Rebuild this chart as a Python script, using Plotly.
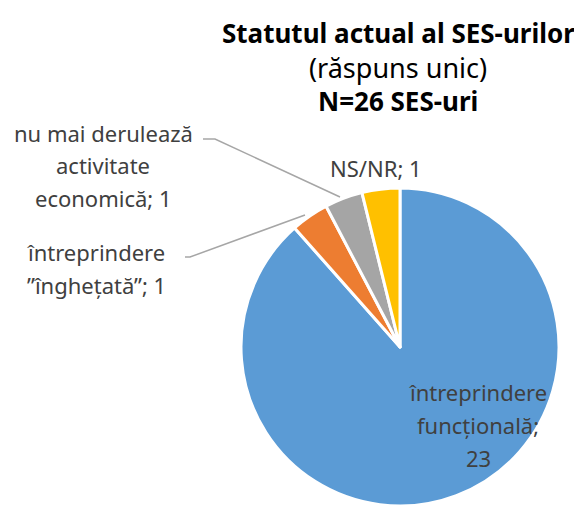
import plotly.graph_objects as go

labels = ["întreprindere funcțională", "întreprindere ”înghețată”",
          "nu mai derulează activitate economică", "NS/NR"]
values = [23, 1, 1, 1]
colors = ["#5B9BD5", "#ED7D31", "#A5A5A5", "#FFC000"]
label_lines = [
    ["întreprindere", "funcțională;", "23"],
    ["întreprindere", "”înghețată”; 1"],
    ["nu mai derulează", "activitate", "economică; 1"],
    ["NS/NR; 1"],
]
title_lines = ["<b>Statutul actual al SES-urilor</b>", "(răspuns unic)", "<b>N=26 SES-uri</b>"]

OFF = 8  # page body margin
W, H = 582 - OFF, 506 - OFF
FONT = "Noto Sans"
TXT = "#404040"

def px(x): return (x - OFF) / W
def py(y): return 1 - (y - OFF) / H

fig = go.Figure()
fig.add_trace(go.Pie(
    labels=labels, values=values, sort=False, direction="clockwise", rotation=0,
    marker=dict(colors=colors, line=dict(color="white", width=3)),
    textinfo="none", hoverinfo="label+value", showlegend=False,
    domain=dict(x=[px(241), px(559)], y=[0, py(188)]),
))

# title
for txt, y, sz in zip(title_lines, [33, 67, 101], [26, 27, 26]):
    fig.add_annotation(text=txt, x=px(398), y=py(y), xref="paper", yref="paper",
                       showarrow=False, xanchor="center", yanchor="middle",
                       font=dict(family=FONT, size=sz, color="#000000"))

# data labels (one annotation per text line)
label_pos = [
    (478, [392, 425, 458]),
    (96, [252, 285]),
    (103, [133, 165, 198]),
    (376, [168]),
]
for lines, (x, ys) in zip(label_lines, label_pos):
    for t, y in zip(lines, ys):
        fig.add_annotation(text=t, x=px(x), y=py(y), xref="paper", yref="paper",
                           showarrow=False, xanchor="center", yanchor="middle",
                           font=dict(family=FONT, size=22, color=TXT))

# leader lines
leaders = [
    [(203, 139), (215, 139), (340, 197)],
    [(185, 257), (190, 257), (305, 215)],
]
for pts in leaders:
    path = "M " + " L ".join(f"{px(x)},{py(y)}" for x, y in pts)
    fig.add_shape(type="path", path=path, xref="paper", yref="paper",
                  line=dict(color="#A6A6A6", width=1.5))

fig.update_layout(width=W, height=H, margin=dict(l=0, r=0, t=0, b=0),
                  paper_bgcolor="white", plot_bgcolor="white",
                  font=dict(family=FONT, color=TXT))
fig.write_html("out.html")
